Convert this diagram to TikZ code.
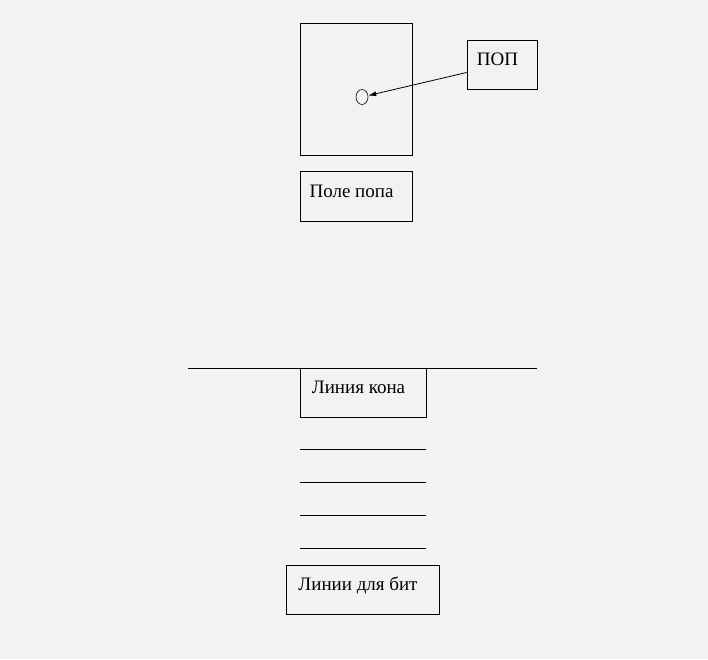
\documentclass[tikz,border=0pt]{standalone}
\usepackage{fontspec}
\setmainfont{Liberation Serif}
\usetikzlibrary{arrows.meta,shapes.geometric}
\definecolor{paper}{HTML}{F2F2F2}

\begin{document}
\begin{tikzpicture}[>={Latex[length=8pt,width=5pt]}, x=1pt, y=-1pt,
    box/.style={draw, line width=0.8pt, inner sep=0pt, text height=8pt, text depth=6pt,
      execute at end node={\hspace*{9pt}}, font=\fontsize{19}{21}\selectfont}]
  \fill[paper] (0,0) rectangle (708,659);
  \useasboundingbox (0,0) rectangle (708,659);
  % upper part
  \node[draw, line width=0.8pt, minimum width=112pt, minimum height=132pt] (field) at (356,89) {};
  \node[draw, line width=0.6pt, ellipse, inner sep=0pt, minimum width=12pt, minimum height=15pt] (ball) at (362,97) {};
  \node[box, minimum width=70pt, minimum height=49pt] (pop) at (502,64.5) {ПОП};
  \node[box, minimum width=112pt, minimum height=50pt] (fieldname) at (356,196) {Поле попа};
  \draw[->, line width=0.8pt] ([yshift=-8pt]pop.west) -- (ball);
  % lower part
  \coordinate (lineL) at (188,368);
  \coordinate (lineR) at (537,368);
  \draw[line width=0.8pt] (lineL) -- (lineR);
  \node[box, minimum width=126pt, minimum height=49pt] (kon) at (363,392.5) {Линия кона};
  \foreach \y in {449,482,515,548}
    \draw[line width=0.8pt] (300,\y) -- (426,\y);
  \node[box, minimum width=153pt, minimum height=49pt] (bits) at (362.5,589.5) {Линии для бит};
\end{tikzpicture}
\end{document}
